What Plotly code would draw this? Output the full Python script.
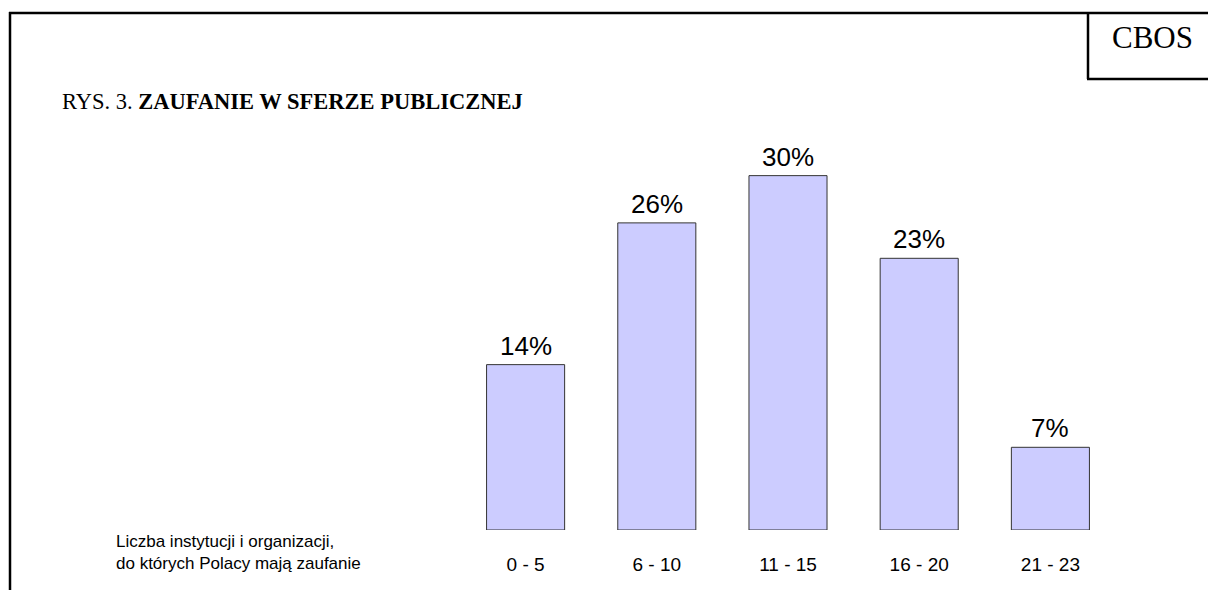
import plotly.graph_objects as go

categories = ["0 - 5", "6 - 10", "11 - 15", "16 - 20", "21 - 23"]
values = [14, 26, 30, 23, 7]
title_text = "RYS. 3. <b>ZAUFANIE W SFERZE PUBLICZNEJ</b>"
axis_label = "Liczba instytucji i organizacji,<br>do których Polacy mają zaufanie"
badge = "CBOS"

W, H = 1208, 590
L, R, T, B = 460, 92, 152, 60
PW, PH = W - L - R, H - T - B

def px(x):
    return (x - L) / PW

def py(y):
    return (H - B - y) / PH

SANS = "Liberation Sans, Arial, sans-serif"
SERIF = "Liberation Serif, Times New Roman, serif"

fig = go.Figure()
fig.add_trace(go.Bar(
    x=categories, y=values,
    marker=dict(color="#CCCCFF", line=dict(color="#333333", width=1)),
    width=0.595,
    hoverinfo="skip",
))

for c, v in zip(categories, values):
    fig.add_annotation(x=c, y=v, text=f"{v}%", showarrow=False,
                       xref="x", yref="y", yanchor="middle", yshift=19,
                       font=dict(family=SANS, size=26, color="#000"))

fig.add_annotation(x=px(60), y=py(101), xref="paper", yref="paper",
                   xanchor="left", yanchor="middle", showarrow=False,
                   text=title_text, font=dict(family=SERIF, size=22.5, color="#000"))
fig.add_annotation(x=px(1152), y=py(37), xref="paper", yref="paper",
                   xanchor="center", yanchor="middle", showarrow=False,
                   text=badge, font=dict(family=SERIF, size=31, color="#000"))
fig.add_annotation(x=px(114), y=py(552), xref="paper", yref="paper",
                   xanchor="left", yanchor="middle", showarrow=False, align="left",
                   text=axis_label, font=dict(family=SANS, size=17, color="#000"))

line = dict(color="#000", width=2.5)
fig.add_shape(type="line", xref="paper", yref="paper", x0=px(9), x1=px(1215), y0=py(13), y1=py(13), line=line)
fig.add_shape(type="line", xref="paper", yref="paper", x0=px(10), x1=px(10), y0=py(12), y1=py(600), line=line)
fig.add_shape(type="line", xref="paper", yref="paper", x0=px(1088), x1=px(1088), y0=py(12), y1=py(79), line=line)
fig.add_shape(type="line", xref="paper", yref="paper", x0=px(1087), x1=px(1215), y0=py(79), y1=py(79), line=line)

fig.update_layout(
    width=W, height=H,
    margin=dict(l=L, r=R, t=T, b=B, pad=0),
    paper_bgcolor="white", plot_bgcolor="white",
    showlegend=False,
    xaxis=dict(range=[-0.5, 4.5], showgrid=False, zeroline=False, showline=False,
               ticks="", ticklabelstandoff=21,
               tickfont=dict(family=SANS, size=19, color="#000")),
    yaxis=dict(range=[0, 32], visible=False, fixedrange=True),
)
fig.write_html(
    "out.html",
    config={"displayModeBar": False, "staticPlot": True},
    post_script="document.body.style.margin='0';document.body.style.overflow='hidden';",
)
